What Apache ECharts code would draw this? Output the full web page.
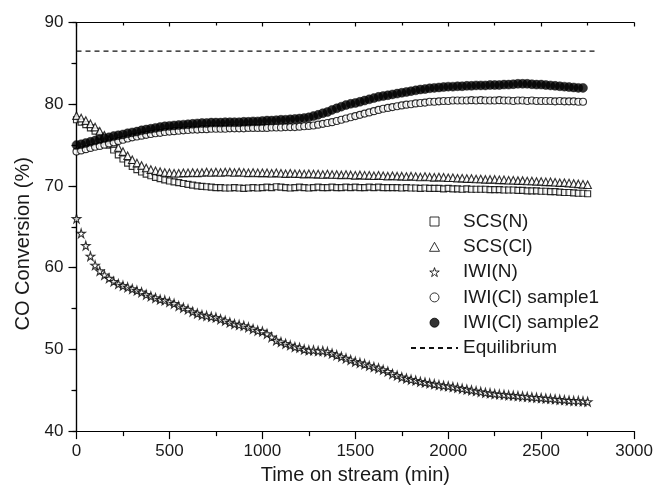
<!DOCTYPE html>
<html>
<head>
    <meta charset="utf-8" />
    <title>CO Conversion vs Time on stream</title>
    <script src="https://cdn.jsdelivr.net/npm/echarts@6.0.0/dist/echarts.min.js"></script>
    <style>
        html, body { margin: 0; padding: 0; background: #fff; }
        #chart { width: 656px; height: 490px; }
    </style>
</head>
<body>
    <div id="chart"></div>
    <script type="text/javascript">
        // sampled every 25 min, 0 .. 2750
        const timeStep = 25;

        const scsN = [
            78.1, 77.8, 77.5, 77.1, 76.7, 76.1, 75.5, 75.0, 74.4, 73.8,
            73.3, 72.8, 72.4, 72.0, 71.7, 71.45, 71.25, 71.05, 70.9, 70.75,
            70.6, 70.5, 70.4, 70.3, 70.2, 70.1, 70.0, 69.95, 69.9, 69.85,
            69.8, 69.8, 69.75, 69.75, 69.8, 69.75, 69.7, 69.75, 69.8, 69.75,
            69.8, 69.85, 69.8, 69.9, 69.85, 69.8, 69.75, 69.8, 69.85, 69.8,
            69.75, 69.8, 69.85, 69.8, 69.8, 69.85, 69.8, 69.8, 69.85, 69.8,
            69.85, 69.8, 69.8, 69.85, 69.8, 69.85, 69.8, 69.8, 69.8, 69.8,
            69.75, 69.8, 69.75, 69.75, 69.7, 69.75, 69.7, 69.7, 69.7, 69.65,
            69.7, 69.65, 69.65, 69.6, 69.65, 69.6, 69.6, 69.6, 69.6, 69.55,
            69.55, 69.55, 69.5, 69.5, 69.5, 69.45, 69.45, 69.4, 69.4, 69.4,
            69.35, 69.35, 69.3, 69.3, 69.25, 69.2, 69.2, 69.15, 69.1, 69.1,
            69.05
        ];
        const scsCl = [
            78.6, 78.3, 78.0, 77.6, 77.2, 76.7, 76.2, 75.7, 75.2, 74.7,
            74.2, 73.7, 73.2, 72.8, 72.5, 72.2, 72.0, 71.85, 71.75, 71.65,
            71.6, 71.55, 71.55, 71.6, 71.6, 71.65, 71.6, 71.65, 71.7, 71.65,
            71.7, 71.65, 71.7, 71.7, 71.65, 71.7, 71.65, 71.6, 71.65, 71.6,
            71.6, 71.6, 71.55, 71.6, 71.55, 71.5, 71.55, 71.5, 71.5, 71.45,
            71.5, 71.45, 71.45, 71.4, 71.45, 71.4, 71.4, 71.35, 71.4, 71.35,
            71.3, 71.35, 71.3, 71.3, 71.25, 71.3, 71.25, 71.2, 71.25, 71.2,
            71.2, 71.15, 71.2, 71.15, 71.1, 71.15, 71.1, 71.05, 71.1, 71.05,
            71.0, 71.0, 70.95, 70.95, 70.9, 70.9, 70.85, 70.85, 70.8, 70.8,
            70.8, 70.75, 70.75, 70.7, 70.7, 70.65, 70.65, 70.6, 70.6, 70.55,
            70.55, 70.5, 70.5, 70.45, 70.4, 70.4, 70.35, 70.3, 70.25, 70.2,
            70.15
        ];
        const iwiN = [
            66.0, 64.2, 62.7, 61.4, 60.3, 59.6, 59.1, 58.7, 58.3, 58.0,
            57.8, 57.6, 57.4, 57.2, 57.0, 56.7, 56.5, 56.3, 56.1, 56.0,
            55.8, 55.6, 55.3, 55.1, 54.9, 54.6, 54.4, 54.2, 54.1, 54.0,
            53.9, 53.7, 53.5, 53.3, 53.1, 53.0, 52.9, 52.7, 52.5, 52.3,
            52.2, 51.9, 51.5, 51.1, 50.9, 50.7, 50.5, 50.3, 50.2, 50.0,
            49.9, 49.9, 49.8, 49.8, 49.7, 49.5, 49.3, 49.1, 48.9, 48.7,
            48.5, 48.35, 48.2, 48.0, 47.85, 47.7, 47.5, 47.3, 47.0, 46.8,
            46.6, 46.45, 46.3, 46.2, 46.05, 45.95, 45.85, 45.75, 45.65, 45.55,
            45.5, 45.4, 45.3, 45.2, 45.1, 45.0, 44.9, 44.8, 44.7, 44.65,
            44.55, 44.5, 44.45, 44.4, 44.35, 44.3, 44.25, 44.2, 44.15, 44.1,
            44.05, 44.0, 43.95, 43.9, 43.85, 43.8, 43.75, 43.7, 43.7, 43.65,
            43.6
        ];
        const iwiClS1 = [
            74.2, 74.35, 74.5, 74.65, 74.8, 74.9, 75.05, 75.2, 75.35, 75.5,
            75.65, 75.8, 75.95, 76.05, 76.15, 76.25, 76.35, 76.45, 76.5, 76.6,
            76.65, 76.7, 76.75, 76.8, 76.85, 76.9, 76.9, 76.95, 76.95, 77.0,
            77.0, 77.0, 77.0, 77.05, 77.05, 77.05, 77.05, 77.1, 77.1, 77.1,
            77.1, 77.1, 77.15, 77.15, 77.15, 77.2, 77.2, 77.2, 77.25, 77.3,
            77.35, 77.4, 77.5, 77.6, 77.7, 77.8, 77.95, 78.1, 78.25, 78.4,
            78.55, 78.7, 78.85, 79.0, 79.15, 79.3, 79.45, 79.55, 79.65, 79.75,
            79.85, 79.95, 80.0, 80.1, 80.15, 80.2, 80.3, 80.3, 80.35, 80.4,
            80.4, 80.45, 80.45, 80.45, 80.45, 80.5, 80.45, 80.5, 80.45, 80.45,
            80.45, 80.5, 80.45, 80.45, 80.4, 80.45, 80.45, 80.4, 80.45, 80.4,
            80.4, 80.4, 80.4, 80.35, 80.4, 80.35, 80.35, 80.35, 80.3, 80.3
        ];
        const iwiClS2 = [
            75.0, 75.1, 75.25, 75.4, 75.55, 75.7, 75.85, 75.95, 76.1, 76.2,
            76.3, 76.45, 76.55, 76.65, 76.8, 76.9, 77.0, 77.1, 77.2, 77.3,
            77.35, 77.4, 77.45, 77.5, 77.55, 77.6, 77.65, 77.7, 77.7, 77.75,
            77.75, 77.75, 77.8, 77.8, 77.8, 77.8, 77.85, 77.85, 77.9, 77.9,
            77.95, 78.0, 78.0, 78.05, 78.1, 78.1, 78.15, 78.2, 78.25, 78.3,
            78.4, 78.55, 78.7, 78.9, 79.05, 79.3, 79.5, 79.7, 79.9, 80.05,
            80.15, 80.3, 80.45, 80.6, 80.75, 80.9, 81.0, 81.1, 81.2, 81.3,
            81.4, 81.5, 81.6, 81.7, 81.8, 81.85, 81.95, 82.0, 82.05, 82.1,
            82.15, 82.15, 82.2, 82.2, 82.25, 82.25, 82.3, 82.3, 82.3, 82.35,
            82.35, 82.35, 82.4, 82.4, 82.45, 82.5, 82.5, 82.5, 82.45, 82.4,
            82.4, 82.35, 82.3, 82.25, 82.2, 82.15, 82.1, 82.05, 82.0, 82.0
        ];
        const equilibrium = [[0, 86.5], [2800, 86.5]];

        const xTicks = { min: 0, max: 3000, interval: 500 };
        const yTicks = { min: 40, max: 90, interval: 10 };

        const starPath = 'path://M50 0 L61 35 L98 35 L68 57 L79 91 L50 70 L21 91 L32 57 L2 35 L39 35 Z';
        const squarePath = 'path://M0 0 L10 0 L10 10 L0 10 Z';
        const trianglePath = 'path://M5 0 L10 9 L0 9 Z';
        const fontFamily = '"Liberation Sans", Arial, sans-serif';

        function pairs(values) {
            return values.map((v, i) => [i * timeStep, v]);
        }

        const hollow = {
            color: '#fff',
            borderColor: '#000',
            borderWidth: 1.15
        };

        const chart = echarts.init(document.getElementById('chart'));

        const tickStyle = { color: '#000', width: 1.2 };

        let option = {
            animation: false,
            backgroundColor: '#fff',
            grid: {
                left: 76.5,
                right: 19.5,
                top: 22.5,
                bottom: 56.5
            },
            legend: {
                orient: 'vertical',
                left: 405,
                top: 207,
                itemWidth: 47,
                itemHeight: 9,
                itemGap: 6.3,
                itemStyle: { borderWidth: 1 },
                textStyle: { fontFamily: fontFamily, fontSize: 19, color: '#1a1a1a' },
                data: [
                    { name: 'SCS(N)', icon: squarePath },
                    { name: 'SCS(Cl)', icon: trianglePath },
                    { name: 'IWI(N)', icon: starPath },
                    { name: 'IWI(Cl) sample1', icon: 'circle' },
                    { name: 'IWI(Cl) sample2', icon: 'circle' },
                    { name: 'Equilibrium', itemStyle: { opacity: 0 } }
                ]
            },
            xAxis: [{
                type: 'value',
                min: xTicks.min,
                max: xTicks.max,
                interval: xTicks.interval,
                name: 'Time on stream (min)',
                nameLocation: 'middle',
                nameGap: 24,
                nameTextStyle: { fontFamily: fontFamily, fontSize: 20, color: '#1a1a1a' },
                axisLine: { lineStyle: tickStyle },
                axisTick: { length: 8, lineStyle: tickStyle },
                minorTick: { show: true, splitNumber: 2, length: 5, lineStyle: tickStyle },
                axisLabel: {
                    fontFamily: fontFamily, fontSize: 17, color: '#1a1a1a', margin: 12,
                    formatter: v => String(v)
                },
                splitLine: { show: false }
            }, {
                type: 'value',
                position: 'top',
                min: xTicks.min,
                max: xTicks.max,
                interval: xTicks.interval,
                axisLine: { show: true, lineStyle: tickStyle },
                axisTick: { inside: true, length: 4, lineStyle: tickStyle },
                minorTick: { show: true, splitNumber: 2, length: 3, lineStyle: tickStyle },
                axisLabel: { show: false },
                splitLine: { show: false }
            }],
            yAxis: [{
                type: 'value',
                min: yTicks.min,
                max: yTicks.max,
                interval: yTicks.interval,
                name: 'CO Conversion (%)',
                nameLocation: 'middle',
                nameGap: 30,
                nameTextStyle: {
                    fontFamily: fontFamily, fontSize: 20, color: '#1a1a1a',
                    padding: [0, 34, 0, 0]
                },
                axisLine: { show: true, lineStyle: tickStyle },
                axisTick: { length: 8, lineStyle: tickStyle },
                minorTick: { show: true, splitNumber: 2, length: 5, lineStyle: tickStyle },
                axisLabel: {
                    fontFamily: fontFamily, fontSize: 17, color: '#1a1a1a', margin: 13,
                    formatter: v => String(v)
                },
                splitLine: { show: false }
            }, {
                type: 'value',
                position: 'right',
                min: yTicks.min,
                max: yTicks.max,
                interval: yTicks.interval,
                axisLine: { show: true, lineStyle: tickStyle },
                axisTick: { inside: true, length: 4, lineStyle: tickStyle },
                minorTick: { show: true, splitNumber: 2, length: 3, lineStyle: tickStyle },
                axisLabel: { show: false },
                splitLine: { show: false }
            }],
            series: [
                {
                    name: 'SCS(N)',
                    type: 'scatter',
                    symbol: 'rect',
                    symbolSize: 6,
                    itemStyle: hollow,
                    data: pairs(scsN)
                }, {
                    name: 'SCS(Cl)',
                    type: 'scatter',
                    symbol: 'triangle',
                    symbolSize: 7.5,
                    itemStyle: hollow,
                    data: pairs(scsCl)
                }, {
                    name: 'IWI(N)',
                    type: 'scatter',
                    symbol: starPath,
                    symbolSize: 8.5,
                    itemStyle: hollow,
                    data: pairs(iwiN)
                }, {
                    name: 'IWI(Cl) sample1',
                    type: 'scatter',
                    symbol: 'circle',
                    symbolSize: 7,
                    itemStyle: hollow,
                    data: pairs(iwiClS1)
                }, {
                    name: 'IWI(Cl) sample2',
                    type: 'scatter',
                    symbol: 'circle',
                    symbolSize: 9,
                    itemStyle: { color: '#000', borderColor: '#000', borderWidth: 0.5 },
                    data: pairs(iwiClS2)
                }, {
                    name: 'Equilibrium',
                    type: 'line',
                    symbol: 'none',
                    lineStyle: { color: '#111', width: 1.1, type: [5, 4] },
                    itemStyle: { color: '#111' },
                    data: equilibrium
                }
            ]
        };

        chart.setOption(option);
    </script>
</body>
</html>
